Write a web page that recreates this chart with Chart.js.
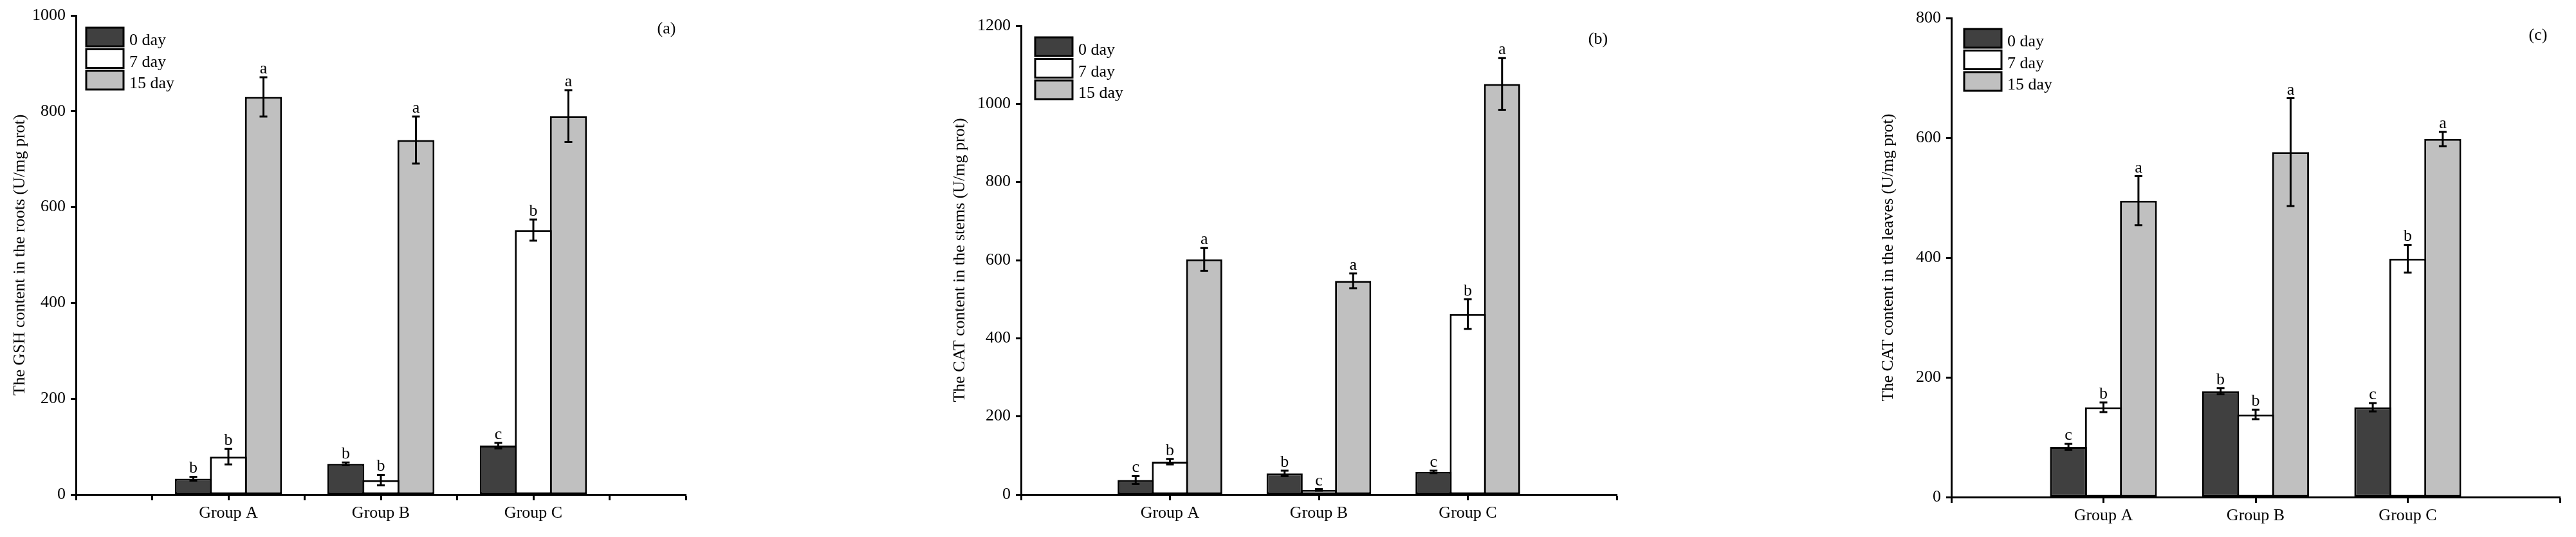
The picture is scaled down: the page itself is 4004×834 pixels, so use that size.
<!DOCTYPE html>
<html>
<head>
<meta charset="utf-8">
<script src="https://cdn.jsdelivr.net/npm/chart.js@4/dist/chart.umd.min.js"></script>
<style>
  html, body { margin: 0; padding: 0; background: #fff; }
  #page { position: relative; width: 4004px; height: 834px; overflow: hidden; }
  .panel { position: absolute; top: 0; height: 834px; }
</style>
</head>
<body>
<div id="page">
  <div class="panel" style="left:0;width:1340px"><canvas id="chart-a"></canvas></div>
  <div class="panel" style="left:1340px;width:1340px"><canvas id="chart-b"></canvas></div>
  <div class="panel" style="left:2680px;width:1324px"><canvas id="chart-c"></canvas></div>
</div>
<script>
// Categories and series
const groups = ['Group A', 'Group B', 'Group C'];
const dayNames = ['0 day', '7 day', '15 day'];
const dayColors = ['#404040', '#ffffff', '#c0c0c0'];

// (a) GSH, roots
const gshRoots0 = [33, 64, 102];
const gshRoots7 = [79, 30, 552];
const gshRoots15 = [830, 740, 790];
const gshRootsErr0 = [4, 3, 6];
const gshRootsErr7 = [16, 11, 22];
const gshRootsErr15 = [41, 49, 54];
const gshRootsSig0 = ['b', 'b', 'c'];
const gshRootsSig7 = ['b', 'b', 'b'];
const gshRootsSig15 = ['a', 'a', 'a'];

// (b) CAT, stems
const catStems0 = [37, 54, 58];
const catStems7 = [84, 12, 462];
const catStems15 = [602, 547, 1051];
const catStemsErr0 = [10, 7, 3];
const catStemsErr7 = [7, 2, 38];
const catStemsErr15 = [29, 19, 66];
const catStemsSig0 = ['c', 'b', 'c'];
const catStemsSig7 = ['b', 'c', 'b'];
const catStemsSig15 = ['a', 'a', 'a'];

// (c) CAT, leaves
const catLeaves0 = [84, 177, 150];
const catLeaves7 = [150, 138, 398];
const catLeaves15 = [495, 576, 598];
const catLeavesErr0 = [5, 5, 7];
const catLeavesErr7 = [8, 8, 23];
const catLeavesErr15 = [41, 90, 12];
const catLeavesSig0 = ['c', 'b', 'c'];
const catLeavesSig7 = ['b', 'b', 'b'];
const catLeavesSig15 = ['a', 'a', 'a'];

const FONT = "'Liberation Serif', 'Times New Roman', serif";

// empty slot at each end of the x axis, as in the original figure
function pad(arr) {
    return [null, ...arr, null];
}

// error bars, significance letters, legend, panel tag
const extrasPlugin = {
    id: 'extras',
    afterDatasetsDraw(chart) {
        const ctx = chart.ctx;
        const yScale = chart.scales.y;
        chart.data.datasets.forEach((ds, di) => {
            const meta = chart.getDatasetMeta(di);
            meta.data.forEach((bar, i) => {
                const v = ds.data[i];
                if (v == null) return;
                const e = ds.errors[i];
                const top = yScale.getPixelForValue(v + e);
                const bot = yScale.getPixelForValue(v - e);
                ctx.save();
                ctx.strokeStyle = '#000';
                ctx.lineWidth = 3;
                ctx.beginPath();
                ctx.moveTo(bar.x, top);
                ctx.lineTo(bar.x, bot);
                ctx.moveTo(bar.x - 6, top);
                ctx.lineTo(bar.x + 6, top);
                ctx.moveTo(bar.x - 6, bot);
                ctx.lineTo(bar.x + 6, bot);
                ctx.stroke();
                ctx.fillStyle = '#000';
                ctx.font = '26px ' + FONT;
                ctx.textAlign = 'center';
                ctx.textBaseline = 'alphabetic';
                ctx.fillText(ds.letters[i], bar.x, top - 6);
                ctx.restore();
            });
        });
    },
    afterDraw(chart, args, opts) {
        const ctx = chart.ctx;
        const area = chart.chartArea;
        ctx.save();

        // half ticks between categories
        if (opts.halfTicks) {
            const xs = chart.scales.x;
            ctx.strokeStyle = '#000';
            ctx.lineWidth = 3;
            ctx.beginPath();
            for (let k = 0; k < xs.ticks.length - 1; k++) {
                const mid = (xs.getPixelForTick(k) + xs.getPixelForTick(k + 1)) / 2;
                ctx.moveTo(mid, area.bottom);
                ctx.lineTo(mid, area.bottom + 9);
            }
            ctx.stroke();
        }

        // legend
        const lx = area.left + opts.legendDx;
        let ly = area.top + opts.legendDy;
        ctx.font = '26px ' + FONT;
        ctx.textAlign = 'left';
        ctx.textBaseline = 'alphabetic';
        chart.data.datasets.forEach(ds => {
            ctx.fillStyle = ds.backgroundColor;
            ctx.fillRect(lx, ly, 58, 29);
            ctx.strokeStyle = '#000';
            ctx.lineWidth = 3;
            ctx.strokeRect(lx, ly, 58, 29);
            ctx.fillStyle = '#000';
            ctx.fillText(ds.label, lx + 67, ly + 27);
            ly += 33.5;
        });

        // panel tag
        ctx.textAlign = 'center';
        ctx.textBaseline = 'middle';
        ctx.fillText(opts.tag, area.right - opts.tagDx, area.top + opts.tagDy);
        ctx.restore();
    }
};

function makeChart(id, cfg) {
    const datasets = cfg.series.map((vals, s) => ({
        label: dayNames[s],
        data: pad(vals),
        errors: pad(cfg.errors[s]),
        letters: pad(cfg.letters[s]),
        backgroundColor: dayColors[s],
        borderColor: '#000000',
        borderWidth: 3,
        borderSkipped: false,
        categoryPercentage: 0.69,
        barPercentage: 1.055
    }));

    return new Chart(document.getElementById(id), {
        type: 'bar',
        data: {
            labels: ['', ...groups, ''],
            datasets: datasets
        },
        options: {
            responsive: true,
            maintainAspectRatio: false,
            animation: false,
            devicePixelRatio: 1,
            layout: {
                padding: { left: cfg.padLeft, right: cfg.padRight, top: cfg.padTop, bottom: 0 }
            },
            plugins: {
                legend: { display: false },
                tooltip: { enabled: false },
                extras: {
                    halfTicks: cfg.halfTicks,
                    legendDx: cfg.legendDx,
                    legendDy: cfg.legendDy,
                    tag: cfg.tag,
                    tagDx: cfg.tagDx,
                    tagDy: cfg.tagDy
                }
            },
            scales: {
                x: {
                    type: 'category',
                    offset: false,
                    grid: {
                        offset: false,
                        drawOnChartArea: false,
                        drawTicks: true,
                        tickLength: 9,
                        tickWidth: 3,
                        tickColor: '#000'
                    },
                    border: { display: true, width: 3, color: '#000' },
                    ticks: {
                        autoSkip: false,
                        maxRotation: 0,
                        padding: 5,
                        color: '#000',
                        font: { family: FONT, size: 26 }
                    },
                    afterFit(scale) { scale.height = cfg.xHeight; }
                },
                y: {
                    min: 0,
                    max: cfg.yMax,
                    grid: {
                        drawOnChartArea: false,
                        drawTicks: true,
                        tickLength: 8,
                        tickWidth: 3,
                        tickColor: '#000'
                    },
                    border: { display: true, width: 3, color: '#000' },
                    ticks: {
                        stepSize: 200,
                        padding: 8,
                        color: '#000',
                        font: { family: FONT, size: 26 },
                        callback: value => String(value)
                    },
                    title: {
                        display: true,
                        text: cfg.yTitle,
                        color: '#000',
                        padding: 0,
                        font: { family: FONT, size: 26 }
                    },
                    afterFit(scale) { scale.width = cfg.yWidth; }
                }
            }
        },
        plugins: [extrasPlugin]
    });
}

makeChart('chart-a', {
    series: [gshRoots0, gshRoots7, gshRoots15],
    errors: [gshRootsErr0, gshRootsErr7, gshRootsErr15],
    letters: [gshRootsSig0, gshRootsSig7, gshRootsSig15],
    yMax: 1000,
    yTitle: 'The GSH content in the roots (U/mg prot)',
    padLeft: 16, yWidth: 102, padRight: 274, padTop: 24, xHeight: 66,
    halfTicks: true,
    legendDx: 16, legendDy: 19,
    tag: '(a)', tagDx: 30, tagDy: 21
});

makeChart('chart-b', {
    series: [catStems0, catStems7, catStems15],
    errors: [catStemsErr0, catStemsErr7, catStemsErr15],
    letters: [catStemsSig0, catStemsSig7, catStemsSig15],
    yMax: 1200,
    yTitle: 'The CAT content in the stems (U/mg prot)',
    padLeft: 137, yWidth: 110, padRight: 167, padTop: 40, xHeight: 66,
    halfTicks: false,
    legendDx: 22, legendDy: 18,
    tag: '(b)', tagDx: 29, tagDy: 21
});

makeChart('chart-c', {
    series: [catLeaves0, catLeaves7, catLeaves15],
    errors: [catLeavesErr0, catLeavesErr7, catLeavesErr15],
    letters: [catLeavesSig0, catLeavesSig7, catLeavesSig15],
    yMax: 800,
    yTitle: 'The CAT content in the leaves (U/mg prot)',
    padLeft: 240, yWidth: 113, padRight: 25, padTop: 28, xHeight: 62,
    halfTicks: false,
    legendDx: 20, legendDy: 17,
    tag: '(c)', tagDx: 34, tagDy: 27
});
</script>
</body>
</html>
